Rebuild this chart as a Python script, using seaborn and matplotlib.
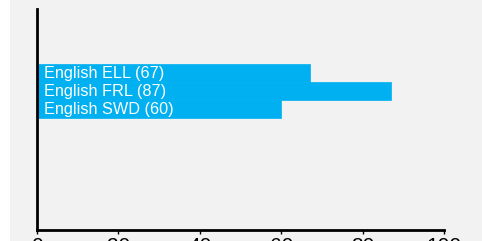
import matplotlib
matplotlib.use("Agg")
import matplotlib.pyplot as plt
import seaborn as sns
import pandas as pd

# data
categories = ["English ELL", "English FRL", "English SWD"]
values = [67, 87, 60]
x_ticks = [0, 20, 40, 60, 80, 100]

df = pd.DataFrame({"Group": categories, "Value": values})

sns.set_theme(style="white")
plt.rcParams["font.family"] = ["Liberation Sans", "DejaVu Sans"]

bg = "#f2f2f2"
fig = plt.figure(figsize=(4.82, 2.41), dpi=100, facecolor=bg)
# white strip at the left edge
fig.patches.append(plt.Rectangle((0, 0), 10 / 482, 1, transform=fig.transFigure,
                                 facecolor="white", edgecolor="none", zorder=0))
ax = fig.add_axes([37 / 482, 11 / 241, (444 - 37) / 482, (230 - 9) / 241])
ax.set_facecolor(bg)

sns.barplot(data=df, x="Value", y="Group", orient="h", color="#00b0f0",
            saturation=1, width=1.0, edgecolor="#00b0f0", linewidth=0.5, ax=ax)

for i, (cat, val) in enumerate(zip(categories, values)):
    ax.text(1.6, i, f"{cat} ({val})", color="white", fontsize=11.7,
            va="center", ha="left")

ax.set_xlim(0, 100)
ax.set_ylim(8.72, -3.56)
ax.set_xticks(x_ticks)
ax.set_yticks([])
ax.set_xlabel("")
ax.set_ylabel("")
ax.tick_params(axis="x", length=3, width=1, color="black", pad=2,
               labelsize=15, labelcolor="black", bottom=True)
for side in ["top", "right"]:
    ax.spines[side].set_visible(False)
for side in ["left", "bottom"]:
    ax.spines[side].set_color("black")
    ax.spines[side].set_linewidth(2)

fig.savefig("out.png", dpi=100, facecolor=bg)
